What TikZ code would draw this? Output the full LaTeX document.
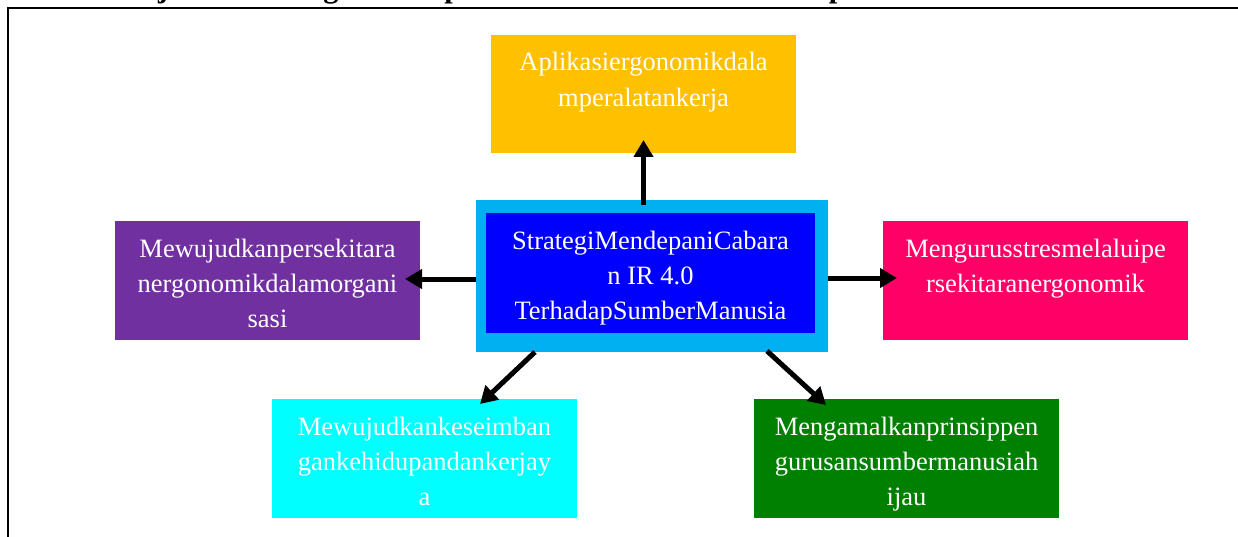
\documentclass[tikz,border=0pt]{standalone}
\usepackage{fontspec}
\setmainfont{Liberation Serif}
\usetikzlibrary{arrows.meta,calc}
\definecolor{cyel}{HTML}{FFC000}
\definecolor{cblue}{HTML}{0000FF}
\definecolor{csky}{HTML}{00B0F0}
\definecolor{cpurp}{HTML}{7030A0}
\definecolor{cpink}{HTML}{FF0066}
\definecolor{ccyan}{HTML}{00FFFF}
\definecolor{cgreen}{HTML}{008000}
\newcommand\bxtext[3]{\parbox[c][#2][t]{#1}{\centering\rule{0pt}{36pt}#3}}
\tikzset{
  boxnode/.style={inner sep=0pt, outer sep=0pt, text=white, font=\fontsize{26.5}{35.3}\selectfont},
  arr/.style={line width=5pt, -{Triangle[length=17pt,width=19pt]}},
  framethick/.style={line width=2.2pt},
  framethin/.style={line width=1.6pt},
}
\begin{document}
\begin{tikzpicture}[x=1pt,y=-1pt]
\useasboundingbox (0,0) rectangle (1238,537);
% frame
\draw[framethin] (7.8,6.6) -- (7.8,540);
\draw[framethick] (7,7.7) -- (1240,7.7);
% cropped title
\node[anchor=base, inner sep=0pt, font=\bfseries\fontsize{30.5}{36}\selectfont] (title) at (599.5,-2) {Rajah 1: Strategi Mendepani Cabaran IR 4.0 Terhadap Sumber Manusia};
% centre
\node[boxnode, fill=csky, minimum width=352pt, minimum height=152pt] (outer) at (652,276) {};
\node[boxnode, fill=cblue] (inner) at (650.5,273) {\bxtext{329pt}{120pt}{StrategiMendepaniCabara\\n IR 4.0\\TerhadapSumberManusia}};
% satellites
\node[boxnode, fill=cyel] (top) at (643.5,94) {\bxtext{305pt}{118pt}{Aplikasiergonomikdala\\mperalatankerja}};
\node[boxnode, fill=cpurp] (left) at (267.5,280.5) {\bxtext{305pt}{119pt}{Mewujudkanpersekitara\\nergonomikdalamorgani\\sasi}};
\node[boxnode, fill=cpink] (right) at (1035.5,280.5) {\bxtext{305pt}{119pt}{Mengurusstresmelaluipe\\rsekitaranergonomik}};
\node[boxnode, fill=ccyan] (bl) at (424.5,458.5) {\bxtext{305pt}{119pt}{Mewujudkankeseimban\\gankehidupandankerjay\\a}};
\node[boxnode, fill=cgreen] (br) at (906.5,458.5) {\bxtext{305pt}{119pt}{Mengamalkanprinsippen\\gurusansumbermanusiah\\ijau}};
% arrows
\draw[arr, shorten <=-5pt, shorten >=-13pt] (top.south |- outer.north) -- (top.south);
\draw[arr, shorten >=-14pt] ([yshift=-2pt]outer.east) -- ([yshift=-2pt]outer.east -| right.west);
\draw[arr, shorten >=-15pt] ([yshift=-3pt]outer.west) -- ([yshift=-3pt]outer.west -| left.east);
\draw[arr] ($(outer.south west)+(59,0)$) -- ($(bl.north west)+(208,5)$);
\draw[arr] ($(outer.south west)+(291,-1)$) -- ($(br.north west)+(72,6)$);
\end{tikzpicture}
\end{document}
